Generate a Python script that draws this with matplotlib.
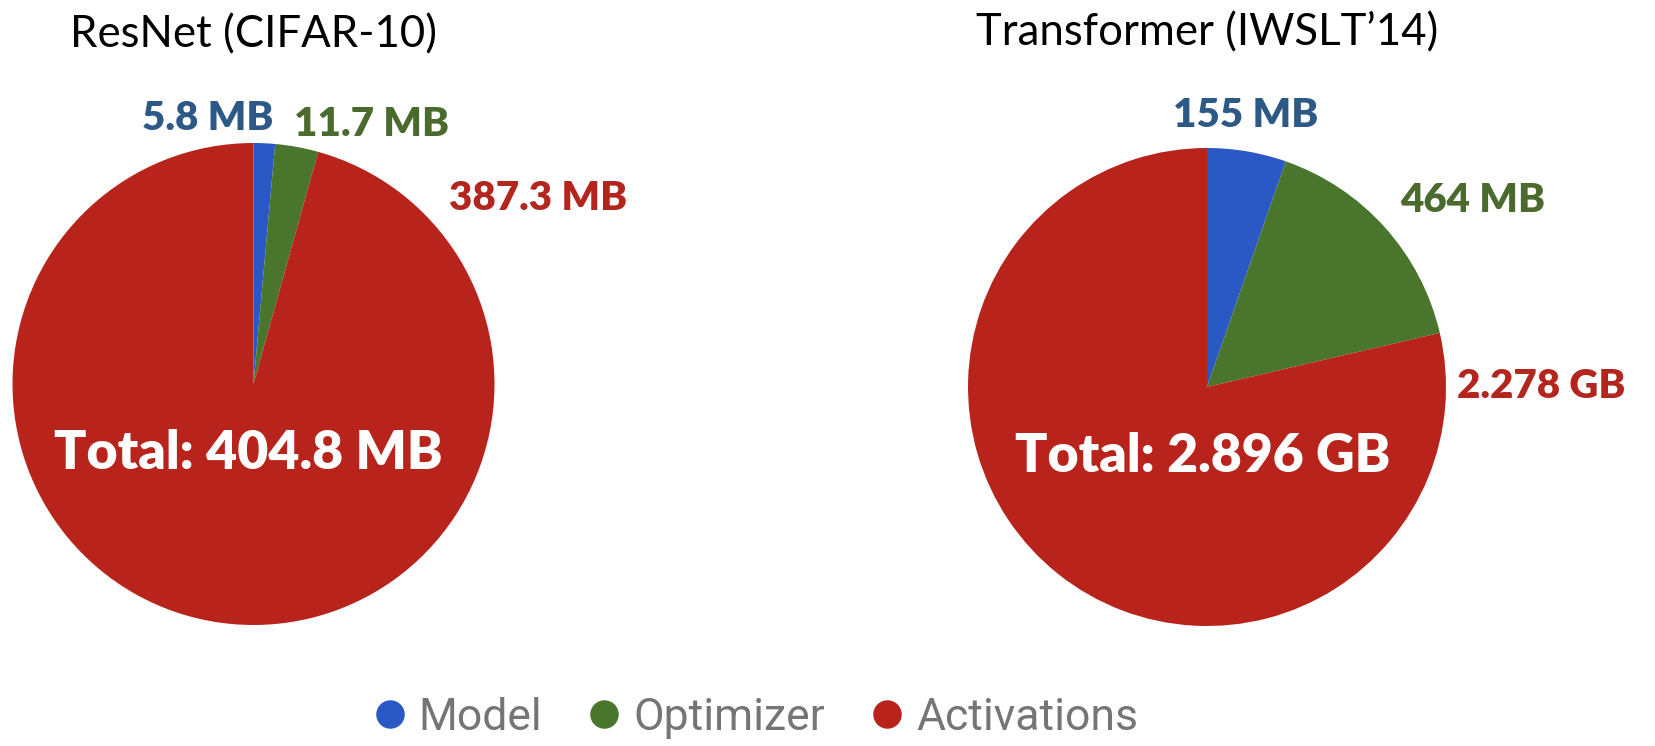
import matplotlib.pyplot as plt
from matplotlib.lines import Line2D

categories = ["Model", "Optimizer", "Activations"]
resnet_mb = [5.8, 11.7, 387.3]
transformer_mb = [155, 464, 2278]
resnet_labels = ["5.8 MB", "11.7 MB", "387.3 MB"]
transformer_labels = ["155 MB", "464 MB", "2.278 GB"]
titles = ["ResNet (CIFAR-10)", "Transformer (IWSLT\u201914)"]
totals = ["Total: 404.8 MB", "Total: 2.896 GB"]

colors = ["#2a58c5", "#4a752c", "#b8241c"]
label_colors = ["#2d5987", "#4a6b2d", "#b3261e"]

W, H = 1656, 746
fig = plt.figure(figsize=(W / 100, H / 100), dpi=100)

def add_pie(cx, cy, r, values, labels, label_pos, title, title_y, total):
    ax = fig.add_axes([(cx - r) / W, 1 - (cy + r) / H, 2 * r / W, 2 * r / H])
    ax.pie(values, colors=colors, startangle=90, counterclock=False,
           radius=1, wedgeprops=dict(linewidth=0))
    ax.set_xlim(-1, 1)
    ax.set_ylim(-1, 1)
    ax.set_aspect("equal")
    ax.axis("off")
    for lab, (x, y), c in zip(labels, label_pos, label_colors):
        ax.text(x, y, lab, color=c, fontsize=29, fontweight="heavy",
                family="Lato", ha="center", va="center", clip_on=False)
    ax.text(0, title_y, title, fontsize=31.5, family="Lato",
            ha="center", va="center", clip_on=False)
    ax.text(-0.02, -0.29, total, color="white", fontsize=38.5, fontweight="heavy",
            family="Lato", ha="center", va="center")
    return ax

add_pie(253.5, 384, 241, resnet_mb, resnet_labels,
        [(-0.19, 1.10), (0.49, 1.076), (1.18, 0.77)],
        titles[0], 1.45, totals[0])
add_pie(1207, 387, 239, transformer_mb, transformer_labels,
        [(0.163, 1.134), (1.113, 0.78), (1.40, 0.0)],
        titles[1], 1.48, totals[1])

handles = [Line2D([], [], marker="o", linestyle="", markersize=19.5,
                  markerfacecolor=c, markeredgecolor=c) for c in colors]
leg = fig.legend(handles, categories, loc="center", ncol=3,
                 bbox_to_anchor=(0.456, 0.0375), frameon=False,
                 prop={"family": "Roboto", "size": 32},
                 handletextpad=0.25, columnspacing=1.0, handlelength=0.8)
for t in leg.get_texts():
    t.set_color("#757575")

fig.savefig("out.png", dpi=100)
